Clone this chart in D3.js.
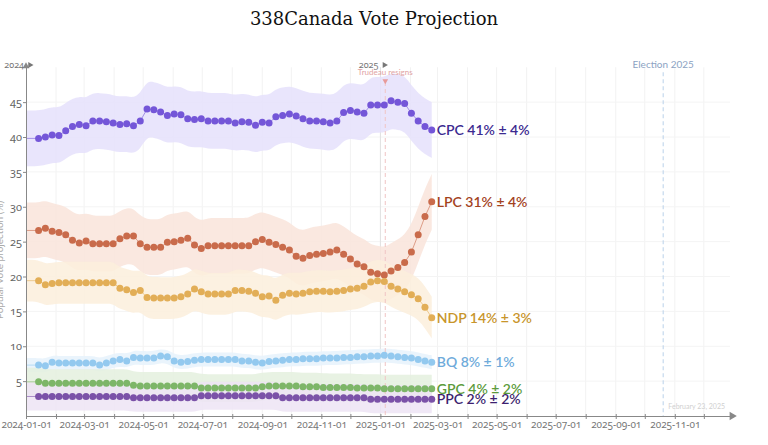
<!DOCTYPE html>
<html><head><meta charset="utf-8">
<script src="https://cdn.jsdelivr.net/npm/d3@7"></script>
<style>
body{margin:0;background:#fff;}
svg{display:block;}
.tick text{font-family:"Noto Sans",sans-serif;font-variant-numeric:oldstyle-nums;}
</style></head>
<body>
<svg id="chart" width="768" height="445"></svg>
<script>
// ---- data ----
const firstWeek = "2024-01-14";
const lastWeek = "2025-02-23";
const cpc = [39.8,40.0,40.3,40.2,40.9,41.5,41.8,41.6,42.3,42.3,42.2,42.0,41.8,41.9,41.6,42.3,44.0,43.9,43.6,43.1,43.3,43.2,42.6,42.5,42.6,42.3,42.3,42.3,42.3,42.0,42.2,42.1,41.7,42.1,42.0,42.9,
  43.1,43.3,43.0,42.6,42.3,42.3,42.2,42.0,42.3,43.5,43.8,43.6,43.4,44.6,44.6,44.6,45.2,45.0,44.8,43.4,42.3,41.5,41.0];
const lpc = [26.6,26.9,26.5,26.3,26.0,25.2,24.8,25.1,24.7,24.7,24.7,24.7,25.4,25.8,25.8,24.7,24.2,24.2,24.2,24.9,25.0,25.2,25.5,24.5,24.0,24.4,24.4,24.4,24.4,24.4,24.4,24.4,25.0,25.3,24.9,24.6,
  24.2,23.8,22.9,22.6,23.0,23.2,23.3,23.5,23.8,23.2,22.5,21.8,21.4,20.6,20.4,20.2,20.8,21.3,22.0,23.5,26.0,28.6,30.7];
const ndp = [19.4,18.8,19.0,19.1,19.1,19.1,19.1,19.1,19.1,19.1,19.1,19.1,18.3,18.1,17.7,18.0,17.0,16.9,16.9,16.9,16.9,17.1,17.5,18.2,17.8,17.5,17.5,17.5,17.5,18.0,18.0,17.9,17.6,17.1,17.2,16.6,
  17.3,17.6,17.5,17.6,17.8,17.9,17.9,17.8,17.9,18.0,18.2,18.3,18.6,19.2,19.4,19.3,18.6,18.2,17.8,17.4,16.8,15.6,14.1];
const bq = [7.3,7.2,7.7,7.6,7.6,7.6,7.6,7.6,7.6,7.3,7.6,7.9,8.1,7.9,8.4,8.3,8.3,8.3,8.6,8.5,7.9,7.7,7.8,8.0,8.1,8.1,8.1,8.1,8.1,8.1,7.9,7.9,7.7,7.6,7.8,7.9,
  8.0,8.1,8.1,8.2,8.2,8.2,8.3,8.3,8.3,8.4,8.4,8.5,8.5,8.6,8.6,8.7,8.6,8.5,8.4,8.3,8.1,7.9,7.7];
const gpc = [4.9,4.7,4.7,4.7,4.7,4.7,4.7,4.7,4.7,4.7,4.7,4.7,4.7,4.7,4.4,4.3,4.3,4.3,4.3,4.3,4.3,4.3,4.3,4.3,4.0,4.0,4.0,4.0,4.0,4.0,4.0,4.0,4.0,4.2,4.3,4.3,
  4.3,4.3,4.3,4.2,4.2,4.2,4.1,4.1,4.1,4.1,4.1,4.0,4.0,4.0,4.0,3.9,3.9,3.9,3.9,3.9,3.9,3.9,3.9];
const ppc = [2.8,2.8,2.8,2.8,2.8,2.8,2.8,2.8,2.8,2.8,2.8,2.8,2.8,2.8,2.6,2.6,2.6,2.6,2.6,2.6,2.6,2.6,2.6,2.6,2.9,2.9,2.9,2.9,2.9,2.9,2.9,2.9,2.9,2.9,2.9,2.9,
  2.6,2.6,2.6,2.6,2.6,2.6,2.6,2.6,2.6,2.6,2.6,2.6,2.6,2.4,2.4,2.4,2.4,2.4,2.4,2.4,2.4,2.4,2.4];
const parties = ["CPC","LPC","NDP","BQ","GPC","PPC"];
const margins = [4,4,3,1,2,2];
const finalLabels = ["CPC 41% ± 4%","LPC 31% ± 4%","NDP 14% ± 3%","BQ 8% ± 1%","GPC 4% ± 2%","PPC 2% ± 2%"];
const dotColors = ["#7456d8","#c96b4b","#e2ae57","#93c9ef","#7db668","#7b52a8"];
const bandColors = ["#e5e1fb","#f9e4db","#fcefdc","#e6f2fc","#e4f0de","#ede4f4"];
const labelColors = ["#3b2a90","#a3421d","#c8952b","#6fabdb","#5c9b3c","#3d1f70"];
const yTicks = [5,10,15,20,25,30,35,40,45];
const markers = [{date:"2025-01-06", text:"Trudeau resigns"}];
const election = {date:"2025-10-20", text:"Election 2025"};
const updateText = "February 23, 2025";
const title = "338Canada Vote Projection";
const yTitle = "Popular vote projection (%)";

// ---- chart ----
const parse = d3.timeParse("%Y-%m-%d");
const weeks = d3.timeWeek.range(parse(firstWeek), d3.timeDay.offset(parse(lastWeek),1));
const series = [cpc,lpc,ndp,bq,gpc,ppc];
const svg = d3.select("#chart");
const x = d3.scaleTime().domain([parse("2024-01-01"), parse("2025-12-28")]).range([26, 730]);
const y = d3.scaleLinear().domain([0, 50]).range([416, 67.25]);

// grid
const g = svg.append("g");
g.selectAll(".vg").data(d3.timeMonth.range(parse("2024-02-01"), parse("2025-12-28")))
  .join("line").attr("x1",d=>x(d)).attr("x2",d=>x(d)).attr("y1",y(50)).attr("y2",y(0))
  .attr("stroke","#f2f2f2").attr("stroke-width",1);
g.selectAll(".hg").data(yTicks).join("line")
  .attr("x1",x.range()[0]).attr("x2",x.range()[1]).attr("y1",d=>y(d)).attr("y2",d=>y(d))
  .attr("stroke","#f4f4f4");

// year line 2025
svg.append("line").attr("x1",x(parse("2025-01-01"))).attr("x2",x(parse("2025-01-01")))
  .attr("y1",y(50)).attr("y2",y(0)).attr("stroke","#e2e2e2");

// bands
const bandStart = parse("2024-01-01");
series.forEach((vals,i)=>{
  const pts = [{d:bandStart,v:vals[0]}].concat(vals.map((v,j)=>({d:weeks[j],v})));
  const area = d3.area().curve(d3.curveBasis).x(p=>x(p.d))
    .y0(p=>y(Math.max(0,p.v-margins[i]))).y1(p=>y(p.v+margins[i]));
  svg.append("path").attr("d",area(pts)).attr("fill",bandColors[i]).attr("opacity",0.85);
});

// election line
svg.append("line").attr("x1",x(parse(election.date))).attr("x2",x(parse(election.date)))
  .attr("y1",y(50)+5).attr("y2",y(0)).attr("stroke","#b9d2ea").attr("stroke-dasharray","4,3");
svg.append("text").attr("x",x(parse(election.date))).attr("y",68).attr("text-anchor","middle")
  .attr("font-family","Lato,sans-serif").attr("font-size",10).attr("fill","#8ca3c3").text(election.text);

// marker Trudeau
markers.forEach(m=>{
  const mx = x(parse(m.date));
  svg.append("line").attr("x1",mx).attr("x2",mx).attr("y1",82).attr("y2",y(0))
    .attr("stroke","#f0c4c4").attr("stroke-dasharray","4,3");
  svg.append("text").attr("x",mx).attr("y",75).attr("text-anchor","middle")
    .attr("font-family","Lato,sans-serif").attr("font-size",8).attr("fill","#dfa3a3").text(m.text);
  svg.append("path").attr("d",d3.symbol().type(d3.symbolTriangle).size(14)())
    .attr("transform",`translate(${mx},81) rotate(180)`).attr("fill","#e79a9a");
});

// lines + dots
series.forEach((vals,i)=>{
  const pts = [{d:bandStart,v:vals[0]}].concat(vals.map((v,j)=>({d:weeks[j],v})));
  svg.append("path").attr("d",d3.line().x(p=>x(p.d)).y(p=>y(p.v))(pts))
    .attr("fill","none").attr("stroke",dotColors[i]).attr("stroke-opacity",0.6).attr("stroke-width",1);
  svg.append("g").selectAll("circle").data(vals).join("circle")
    .attr("cx",(v,j)=>x(weeks[j])).attr("cy",v=>y(v)).attr("r",3.5)
    .attr("fill",dotColors[i]);
  const lv = vals[vals.length-1];
  svg.append("text").attr("x",x(weeks[weeks.length-1])+5).attr("y",y(lv)).attr("dy","0.35em")
    .attr("font-family","Lato,sans-serif").attr("font-size",14).attr("font-weight",600)
    .attr("fill",labelColors[i]).text(finalLabels[i]);
});

// axes
const xAxis = d3.axisBottom(x)
  .tickValues(d3.timeMonth.range(parse("2024-01-01"), parse("2025-12-28")))
  .tickFormat(d=> d.getMonth()%2===0 ? d3.timeFormat("%Y-%m-%d")(d) : "")
  .tickSizeInner(3).tickSizeOuter(0);
const xa = svg.append("g").attr("transform",`translate(0,${y(0)})`).call(xAxis);
xa.selectAll(".tick line").attr("stroke","#888").attr("y1",-2).attr("y2",3);
xa.select(".domain").attr("stroke","#888");
xa.selectAll(".tick text").attr("fill","#777").attr("font-size",10).attr("dy","0.6em");
svg.append("path").attr("d",d3.symbol().type(d3.symbolTriangle).size(30)())
  .attr("transform",`translate(${x.range()[1]+2},${y(0)}) rotate(90)`).attr("fill","#888");

const yAxis = d3.axisLeft(y).tickValues(yTicks).tickSizeInner(3).tickSizeOuter(0);
const ya = svg.append("g").attr("transform",`translate(${x.range()[0]},0)`).call(yAxis);
ya.select(".domain").attr("stroke","#888");
ya.selectAll(".tick line").attr("stroke","#888");
ya.selectAll(".tick text").attr("fill","#666").attr("font-size",11).attr("x",-4);
svg.append("path").attr("d",d3.symbol().type(d3.symbolTriangle).size(20)())
  .attr("transform",`translate(${x.range()[0]},${y(50)-1})`).attr("fill","#888");

// year labels
[["2024","2024-01-01"],["2025","2025-01-01"]].forEach(([t,dstr])=>{
  const yx = x(parse(dstr));
  svg.append("text").attr("x",yx-2).attr("y",68).attr("text-anchor","end")
    .attr("font-family","Noto Sans,sans-serif").style("font-variant-numeric","oldstyle-nums")
    .attr("font-size",9).attr("fill","#777").text(t);
  svg.append("path").attr("d",d3.symbol().type(d3.symbolTriangle).size(16)())
    .attr("transform",`translate(${yx+4},65) rotate(90)`).attr("fill","#777");
});

// y title (cut at the window edge, as in the reference)
svg.append("text").attr("transform",`translate(3,260) rotate(-90)`).attr("text-anchor","middle")
  .attr("font-family","Lato,sans-serif").attr("font-size",10).attr("fill","#aaa").text(yTitle);

// update text
svg.append("text").attr("x",725).attr("y",409).attr("text-anchor","end")
  .attr("font-family","Lato,sans-serif").attr("font-size",7).attr("fill","#d0d0d0").text(updateText);

// title
svg.append("text").attr("x",374).attr("y",25).attr("text-anchor","middle")
  .attr("font-family","DejaVu Serif,serif").attr("font-size",18).attr("fill","#111")
  .style("font-variant-numeric","oldstyle-nums").text(title);
</script>
</body></html>
